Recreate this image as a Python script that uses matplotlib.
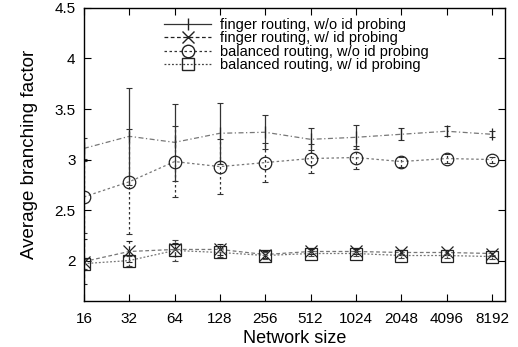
import matplotlib

matplotlib.use("Agg")
import matplotlib.pyplot as plt
import numpy as np

plt.rcParams["font.family"] = ["Liberation Sans", "DejaVu Sans"]

network_sizes = [16, 32, 64, 128, 256, 512, 1024, 2048, 4096, 8192]

finger_noprobe = [3.11, 3.23, 3.17, 3.26, 3.27, 3.20, 3.22, 3.25, 3.28, 3.25]
finger_noprobe_err = [0.10, 0.48, 0.38, 0.30, 0.17, 0.11, 0.12, 0.06, 0.05, 0.03]

finger_probe = [1.99, 2.09, 2.11, 2.11, 2.06, 2.09, 2.09, 2.08, 2.08, 2.07]
finger_probe_err = [0.22, 0.10, 0.06, 0.05, 0.03, 0.02, 0.02, 0.02, 0.02, 0.02]

balanced_noprobe = [2.63, 2.78, 2.98, 2.93, 2.97, 3.01, 3.02, 2.98, 3.01, 3.00]
balanced_noprobe_err = [0.36, 0.52, 0.35, 0.27, 0.19, 0.14, 0.11, 0.05, 0.04, 0.03]

balanced_probe = [1.97, 2.00, 2.10, 2.08, 2.05, 2.07, 2.07, 2.05, 2.05, 2.04]
balanced_probe_err = [0.05, 0.05, 0.10, 0.04, 0.03, 0.02, 0.02, 0.02, 0.02, 0.02]

labels = [
    "finger routing, w/o id probing",
    "finger routing, w/ id probing",
    "balanced routing, w/o id probing",
    "balanced routing, w/ id probing",
]

x = np.arange(len(network_sizes))

fig = plt.figure(figsize=(5.18, 3.47), dpi=100)
ax = fig.add_axes([0.162, 0.1326, 0.813, 0.8444])

series = [
    (finger_noprobe, finger_noprobe_err, "|", "-", (0, (4, 2, 1, 2)), "#333333", 9),
    (finger_probe, finger_probe_err, "x", (0, (3, 2)), (0, (3, 2)), "#222222", 8),
    (balanced_noprobe, balanced_noprobe_err, "o", (0, (2, 2)), (0, (2, 2)), "#333333", 9),
    (balanced_probe, balanced_probe_err, "s", (0, (1.5, 1.5)), (0, (1.5, 1.5)), "#444444", 8.5),
]

for (vals, errs, marker, err_ls, line_ls, color, ms), label in zip(series, labels):
    eb = ax.errorbar(
        x, vals, yerr=errs, fmt="none", ecolor=color, elinewidth=0.9,
        capsize=2.3, capthick=0.8,
    )
    eb[2][0].set_linestyle(err_ls)
    ax.plot(x, vals, color="#777777", linestyle=line_ls, linewidth=0.9)
    ax.plot(x, vals, linestyle="none", marker=marker, markersize=ms,
            markerfacecolor="none", markeredgecolor="#222222", markeredgewidth=0.9)
    ax.plot([], [], color=color, linestyle=err_ls, linewidth=0.9, marker=marker,
            markersize=ms, markerfacecolor="none", markeredgecolor="#222222",
            label=label)

ax.set_xlim(0, 9.29)
ax.set_ylim(1.6, 4.5)
ax.set_xticks(x, [str(n) for n in network_sizes])
ax.set_yticks([2, 2.5, 3, 3.5, 4, 4.5], ["2", "2.5", "3", "3.5", "4", "4.5"])
ax.tick_params(direction="in", top=True, right=True, length=5, labelsize=11, pad=6)
ax.tick_params(axis="x", pad=8)
ax.set_xlabel("Network size", fontsize=13, labelpad=3)
ax.set_ylabel("Average branching factor", fontsize=13.5, labelpad=12)
for spine in ax.spines.values():
    spine.set_linewidth(1.0)

ax.legend(loc="upper left", bbox_to_anchor=(0.17, 0.995), frameon=False, fontsize=10.5,
          handlelength=3.2, handletextpad=0.6, labelspacing=-0.05, borderaxespad=0.2)

fig.savefig("out.png", dpi=100)
